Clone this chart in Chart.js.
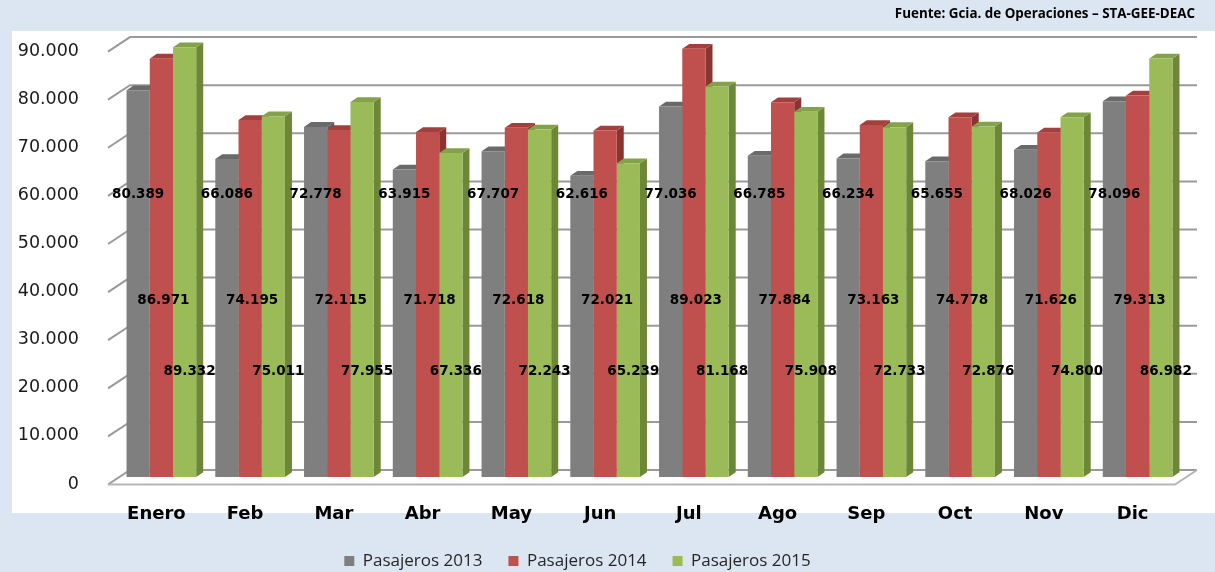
<!DOCTYPE html>
<html>
<head>
<meta charset="utf-8">
<script src="https://cdn.jsdelivr.net/npm/chart.js@4"></script>
<style>
  html, body { margin:0; padding:0; background:#dce6f2; }
  #wrap { width:1215px; height:572px; }
</style>
</head>
<body>
<div id="wrap"><canvas id="chart" width="1215" height="572"></canvas></div>
<script>
// ================== DATA ==================
const months = ["Enero","Feb","Mar","Abr","May","Jun","Jul","Ago","Sep","Oct","Nov","Dic"];
const pax2013 = [80389, 66086, 72778, 63915, 67707, 62616, 77036, 66785, 66234, 65655, 68026, 78096];
const pax2014 = [86971, 74195, 72115, 71718, 72618, 72021, 89023, 77884, 73163, 74778, 71626, 79313];
const pax2015 = [89332, 75011, 77955, 67336, 72243, 65239, 81168, 75908, 72733, 72876, 74800, 86982];
const seriesNames = ["Pasajeros 2013","Pasajeros 2014","Pasajeros 2015"];
const source = "Fuente: Gcia. de Operaciones \u2013 STA-GEE-DEAC";

// ================== STYLE ==================
const frontColors = ["#7f7f7f","#c0504d","#9bbb59"];
const topColors   = ["#6a6a6a","#a33f3c","#84a24a"];
const sideColors  = ["#5c5c5c","#8a3431","#6b8737"];
const labelLevel  = [58800, 36600, 22000];   // height where the value labels sit
const labelShift  = [0, 2, 5];
const DX = 7, DY = 4.8;                       // bar depth

function fmt(v){
  return String(v).replace(/\B(?=(\d{3})+(?!\d))/g, ".");
}

// ================== PLUGINS ==================
const background = {
  id: "background",
  beforeDraw(chart){
    const c = chart.ctx;
    c.save();
    c.fillStyle = "#dce6f2";
    c.fillRect(0, 0, chart.width, chart.height);
    c.fillStyle = "#ffffff";
    c.fillRect(12, 31, chart.width - 12, 482);
    c.restore();
  }
};

const depth = {
  id: "depth",
  beforeDatasetsDraw(chart){
    const c = chart.ctx;
    const yS = chart.scales.y;
    const {left, right} = chart.chartArea;
    const fl = left - 9, bl = left + 13, br = right + 15, fr = fl + (br - bl);

    // walls
    c.save();
    c.strokeStyle = "#9a9a9a";
    c.lineWidth = 2;
    yS.ticks.forEach(t => {
      const p = yS.getPixelForValue(t.value);
      c.beginPath();
      c.moveTo(fl, p + 7.5);
      c.lineTo(bl, p - 7);
      c.lineTo(br, p - 7);
      c.stroke();
    });
    const p0 = yS.getPixelForValue(0);
    c.strokeStyle = "#b5b5b5";
    c.beginPath();
    c.moveTo(fl, p0 + 7.5);
    c.lineTo(fr, p0 + 7.5);
    c.lineTo(br, p0 - 7);
    c.stroke();

    // top and side faces of every bar
    chart.data.datasets.forEach((ds, di) => {
      chart.getDatasetMeta(di).data.forEach(bar => {
        const l = bar.x - bar.width / 2, r = bar.x + bar.width / 2;
        const t = bar.y, b = bar.base;
        c.fillStyle = sideColors[di];
        c.beginPath();
        c.moveTo(r, t); c.lineTo(r + DX, t - DY); c.lineTo(r + DX, b - DY); c.lineTo(r, b);
        c.closePath(); c.fill();
        c.fillStyle = topColors[di];
        c.beginPath();
        c.moveTo(l, t); c.lineTo(l + DX, t - DY); c.lineTo(r + DX, t - DY); c.lineTo(r, t);
        c.closePath(); c.fill();
      });
    });
    c.restore();
  }
};

const valueLabels = {
  id: "valueLabels",
  afterDatasetsDraw(chart){
    const c = chart.ctx;
    const yS = chart.scales.y;
    c.save();
    c.font = "bold 13.5px 'DejaVu Sans'";
    c.fillStyle = "#000";
    c.textAlign = "center";
    c.textBaseline = "middle";
    chart.data.datasets.forEach((ds, di) => {
      const y = yS.getPixelForValue(labelLevel[di]);
      chart.getDatasetMeta(di).data.forEach((bar, i) => {
        c.fillText(fmt(ds.data[i]), bar.x + labelShift[di], y);
      });
    });
    c.restore();
  }
};

// ================== CHART ==================
const allSeries = [pax2013, pax2014, pax2015];
new Chart(document.getElementById("chart"), {
  type: "bar",
  data: {
    labels: months,
    datasets: allSeries.map((d, i) => ({
      label: seriesNames[i],
      data: d,
      backgroundColor: frontColors[i],
      borderWidth: 0,
      categoryPercentage: 0.785,
      barPercentage: 1.0
    }))
  },
  options: {
    responsive: false,
    animation: false,
    layout: { padding: { left: -40, right: 20, top: 0, bottom: -7.5 } },
    plugins: {
      tooltip: { enabled: false },
      title: {
        display: true,
        text: source,
        align: "end",
        color: "#000",
        font: { family: "'Open Sans'", weight: "bold", size: 13.4 },
        padding: { top: 6, bottom: 22 }
      },
      legend: {
        position: "bottom",
        labels: {
          boxWidth: 10,
          boxHeight: 10,
          padding: 26,
          color: "#262626",
          font: { family: "'Open Sans'", size: 17 }
        }
      }
    },
    scales: {
      x: {
        grid: { display: false },
        border: { display: false },
        ticks: {
          color: "#000",
          padding: 19,
          labelOffset: -5,
          maxRotation: 0,
          font: { family: "'DejaVu Sans'", weight: "bold", size: 18 }
        },
        afterFit(s){ s.height = 49.5; }
      },
      y: {
        min: 0,
        max: 90000,
        grid: { display: false },
        border: { display: false },
        ticks: {
          stepSize: 10000,
          padding: 30,
          labelOffset: 7,
          color: "#1a1a1a",
          font: { family: "'DejaVu Sans'", size: 17.5 },
          callback: v => v === 0 ? "0" : fmt(v)
        },
        afterFit(s){ s.width = 157; }
      },
      yR: {
        position: "right",
        grid: { display: false },
        border: { display: false },
        ticks: { display: false },
        afterFit(s){ s.width = 13; }
      }
    }
  },
  plugins: [background, depth, valueLabels]
});
</script>
</body>
</html>
